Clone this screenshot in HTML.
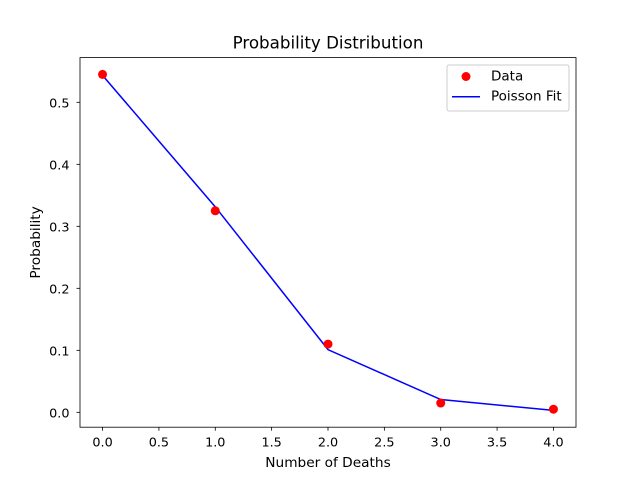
<!DOCTYPE html>
<html><head><meta charset="utf-8"><style>
html,body{margin:0;padding:0;background:#fff;}
svg{display:block;font-family:"DejaVu Sans","Liberation Sans",sans-serif;}
</style></head><body>
<svg id="chart" width="640" height="480" xmlns="http://www.w3.org/2000/svg">
<rect x="0" y="0" width="640" height="480" fill="#fff"/>
<g id="plot"></g>
</svg>
<script>
const categories = [0, 1, 2, 3, 4];
const dataValues = [0.545, 0.325, 0.11, 0.015, 0.005];
const fitValues = [0.5434, 0.3314, 0.1011, 0.0206, 0.0031];
const xTicks = ["0.0","0.5","1.0","1.5","2.0","2.5","3.0","3.5","4.0"];
const yTicks = ["0.0","0.1","0.2","0.3","0.4","0.5"];

const L=80,R=576,T=57.6,B=427.2;
const xmin=-0.2,xmax=4.2;
const allY=dataValues.concat(fitValues);
const dmin=Math.min(...allY),dmax=Math.max(...allY),pad=(dmax-dmin)*0.05;
const ymin=dmin-pad,ymax=dmax+pad;
const sx=v=>L+(v-xmin)/(xmax-xmin)*(R-L);
const sy=v=>B-(v-ymin)/(ymax-ymin)*(B-T);
const NS="http://www.w3.org/2000/svg";
const g=document.getElementById('plot');
function mk(tag,attrs,parent){const e=document.createElementNS(NS,tag);for(const k in attrs)e.setAttribute(k,attrs[k]);(parent||g).appendChild(e);return e;}

xTicks.forEach(t=>{
  const x=sx(parseFloat(t));
  const tk=mk('line',{x1:x,x2:x,y1:B,y2:B+3.5,stroke:'#000','stroke-width':0.8});
  
  
  const tx=mk('text',{x:x,y:B+19.5,'text-anchor':'middle','font-size':12.8});
  tx.textContent=t;
  
  
});
yTicks.forEach(t=>{
  const y=sy(parseFloat(t));
  const tk=mk('line',{x1:L-3.5,x2:L,y1:y,y2:y,stroke:'#000','stroke-width':0.8});
  
  
  const tx=mk('text',{x:L-10.5,y:y+5,'text-anchor':'end','font-size':12.8});
  tx.textContent=t;
  
  
});

const line=mk('polyline',{points:categories.map((c,i)=>sx(c)+','+sy(fitValues[i])).join(' '),fill:'none',stroke:'#0000ff','stroke-width':1.5});



categories.forEach((c,i)=>{
  const p=mk('circle',{cx:sx(c),cy:sy(dataValues[i]),r:4.5,fill:'#ff0000'});
  
  
});

const fr=mk('rect',{x:L,y:T,width:R-L,height:B-T,fill:'none',stroke:'#000','stroke-width':0.8});



const ti=mk('text',{x:(L+R)/2,y:48.5,'text-anchor':'middle','font-size':16.7});
ti.textContent='Probability Distribution';


const xl=mk('text',{x:(L+R)/2,y:467,'text-anchor':'middle','font-size':13.7});
xl.textContent='Number of Deaths';


const yc=(T+B)/2;
const yl=mk('text',{x:40,y:yc,'text-anchor':'middle','font-size':13.7,transform:'rotate(-90 40 '+yc+')'});
yl.textContent='Probability';



const lg=mk('g',{});


mk('rect',{x:447,y:65,width:122,height:46,rx:2,fill:'#fff','fill-opacity':0.8,stroke:'#ccc','stroke-width':1},lg);
const lc=mk('circle',{cx:466,cy:76.5,r:4.5,fill:'#ff0000'},lg);


const lt1=mk('text',{x:491,y:80.7,'font-size':13.5},lg);
lt1.textContent='Data';


const ll=mk('line',{x1:452,x2:480,y1:96.7,y2:96.7,stroke:'#0000ff','stroke-width':1.5},lg);


const lt2=mk('text',{x:491,y:100.7,'font-size':13.5},lg);
lt2.textContent='Poisson Fit';


</script>
</body></html>
